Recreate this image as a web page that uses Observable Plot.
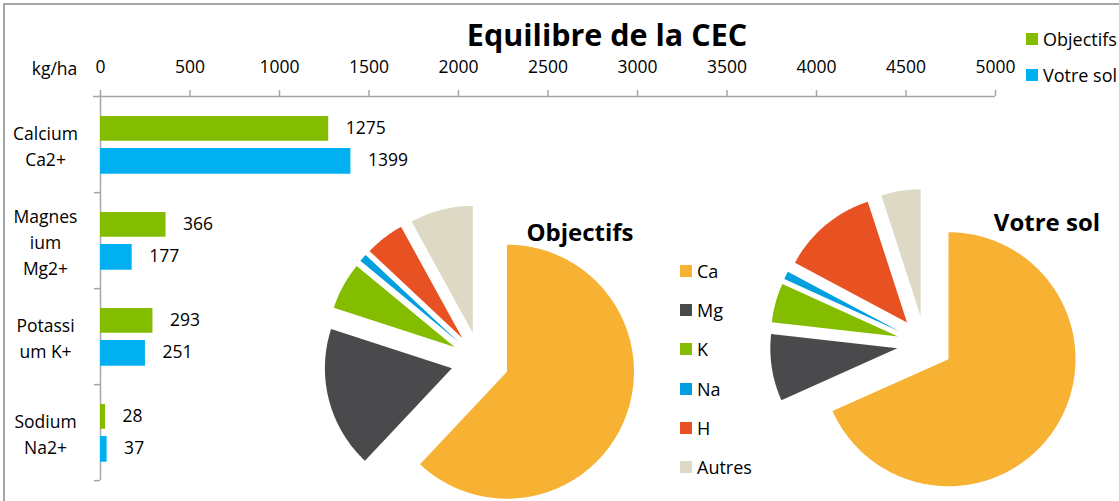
<!DOCTYPE html>
<html><head><meta charset="utf-8">
<script src="https://cdn.jsdelivr.net/npm/d3@7"></script>
<script src="https://cdn.jsdelivr.net/npm/@observablehq/plot@0.6"></script>
<style>
body{margin:0;background:#fff;}
#chart{position:relative;width:1119px;height:501px;overflow:hidden;font-family:"Open Sans",sans-serif;color:#000;}
#chart .abs{position:absolute;}
.border{position:absolute;left:3px;top:3px;width:1300px;height:700px;border:2px solid #a6a6a6;box-sizing:border-box;}
.title{font-weight:bold;font-size:30.5px;white-space:nowrap;line-height:1;}
.ptitle{font-weight:bold;font-size:24px;white-space:nowrap;line-height:1;}
.leg{font-size:18px;white-space:nowrap;line-height:1;display:flex;align-items:center;}
.sw{display:inline-block;width:12px;height:12px;margin-right:5px;}
</style></head><body><div id="chart"></div>
<script>
// ---- data ----
const categories = ["Calcium\nCa2+", "Magnes\nium\nMg2+", "Potassi\num K+", "Sodium\nNa2+"];
const objectifs = [1275, 366, 293, 28];
const votreSol = [1399, 177, 251, 37];
const xTicks = [0, 500, 1000, 1500, 2000, 2500, 3000, 3500, 4000, 4500, 5000];
const unitLabel = "kg/ha";
const seriesNames = ["Objectifs", "Votre sol"];
const pieLabels = ["Ca", "Mg", "K", "Na", "H", "Autres"];
const pieObjectifs = [62, 18, 6, 1, 5, 8];
const pieVotreSol = [68.3, 8.5, 5, 1, 12.2, 5];
const chartTitle = "Equilibre de la CEC";

// ---- styles ----
const barColors = ["#84bd00", "#00b0f0"];
const pieColors = ["#f7b133", "#4a4a4c", "#84bd00", "#00a0e0", "#e85222", "#ddd9c4"];
const axisGray = "#a6a6a6";

const root = document.getElementById("chart");
const W = 1119, H = 501;
const mTop = 95, mBottom = 21, mLeft = 100, mRight = 124;
const band = (H - mTop - mBottom) / categories.length;

const objData = categories.map((c, i) => ({cat: c, value: objectifs[i]}));
const solData = categories.map((c, i) => ({cat: c, value: votreSol[i]}));

const border = document.createElement("div");
border.className = "border";
root.appendChild(border);

const main = Plot.plot({
  width: W, height: H,
  marginTop: mTop, marginBottom: mBottom, marginLeft: mLeft, marginRight: mRight,
  style: {fontFamily: "Open Sans, sans-serif", fontSize: "17.5px", color: "#000", background: "transparent", overflow: "visible"},
  x: {domain: [0, 5000], axis: null},
  y: {domain: categories, padding: 0, axis: null},
  marks: [
    Plot.ruleY([categories[0]], {dy: -band / 2, x1: 0, x2: 5000, insetLeft: -7, stroke: axisGray, strokeWidth: 1.5}),
    Plot.ruleX([0], {stroke: axisGray, strokeWidth: 1.5}),
    Plot.axisX({anchor: "top", ticks: xTicks, tickSize: 6, tickPadding: 17, stroke: axisGray, strokeWidth: 1.5, fill: "#000", label: null, tickFormat: d => String(d)}),
    Plot.axisY({anchor: "left", tickSize: 6, dy: band / 2, stroke: axisGray, strokeWidth: 1.5, label: null, tickFormat: () => ""}),
    Plot.barX(objData, {x: "value", y: "cat", fill: barColors[0], insetTop: 20, insetBottom: band - 45}),
    Plot.barX(solData, {x: "value", y: "cat", fill: barColors[1], insetTop: 52, insetBottom: band - 78}),
    Plot.text(objData, {x: "value", y: "cat", text: d => String(d.value), dx: 17, dy: -16, textAnchor: "start", fill: "#000"}),
    Plot.text(solData, {x: "value", y: "cat", text: d => String(d.value), dx: 17, dy: 16, textAnchor: "start", fill: "#000"}),
    Plot.text(categories, {y: d => d, text: d => d, frameAnchor: "left", dx: -55, textAnchor: "middle", lineHeight: 1.5, fill: "#000"}),
    Plot.text([unitLabel], {frameAnchor: "top-left", text: d => d, dx: -46, dy: -33, textAnchor: "middle", fill: "#000"})
  ]
});
main.style.position = "absolute"; main.style.left = "0px"; main.style.top = "0px";
root.appendChild(main);

// ---- pies ----
const R = 127, SZ = 340;
function piePlot(values, explode) {
  const data = pieLabels.map((l, i) => ({label: l, v: values[i]}));
  const arcs = d3.pie().sort(null).value(d => d.v)(data);
  const rows = [];
  const e = explode / R;
  for (const a of arcs) {
    const mid = (a.startAngle + a.endAngle) / 2;
    const ox = e * Math.sin(mid), oy = e * Math.cos(mid);
    const n = Math.max(2, Math.ceil((a.endAngle - a.startAngle) / 0.01));
    for (let k = 0; k <= n; k++) {
      const t = a.startAngle + (a.endAngle - a.startAngle) * k / n;
      rows.push({label: a.data.label, x1: ox + Math.sin(t), y1: oy + Math.cos(t), x2: ox, y2: oy});
    }
  }
  const h = SZ / 2 / R;
  return Plot.plot({
    width: SZ, height: SZ, margin: 0,
    style: {background: "transparent", overflow: "visible"},
    x: {domain: [-h, h], axis: null},
    y: {domain: [-h, h], axis: null},
    color: {domain: pieLabels, range: pieColors},
    marks: [
      Plot.area(rows, {x1: "x1", y1: "y1", x2: "x2", y2: "y2", z: "label", fill: "label"})
    ]
  });
}
function place(el, cx, cy) {
  el.style.position = "absolute";
  el.style.left = (cx - SZ / 2) + "px";
  el.style.top = (cy - SZ / 2) + "px";
  root.appendChild(el);
}
place(piePlot(pieObjectifs, 29), 480, 361);
place(piePlot(pieVotreSol, 28), 925, 344);

function addText(cls, txt, x, y, anchor) {
  const d = document.createElement("div");
  d.className = "abs " + cls;
  d.textContent = txt;
  d.style.left = x + "px"; d.style.top = y + "px";
  d.style.transform = anchor === "middle" ? "translate(-50%,-50%)" : "translate(0,-50%)";
  root.appendChild(d);
  return d;
}
addText("title", chartTitle, 607, 34, "middle");
addText("ptitle", seriesNames[0], 580, 232, "middle");
addText("ptitle", seriesNames[1], 1047, 222, "middle");

function addLegend(x, y, color, txt) {
  const d = document.createElement("div");
  d.className = "abs leg";
  d.style.left = x + "px"; d.style.top = y + "px"; d.style.transform = "translate(0,-50%)";
  const s = document.createElement("span"); s.className = "sw"; s.style.background = color;
  d.appendChild(s); d.appendChild(document.createTextNode(txt));
  root.appendChild(d);
}
seriesNames.forEach((s, i) => addLegend(1026, 39 + i * 36, barColors[i], s));
pieLabels.forEach((l, i) => addLegend(680, 271 + i * 39.2, pieColors[i], l));
</script></body></html>
